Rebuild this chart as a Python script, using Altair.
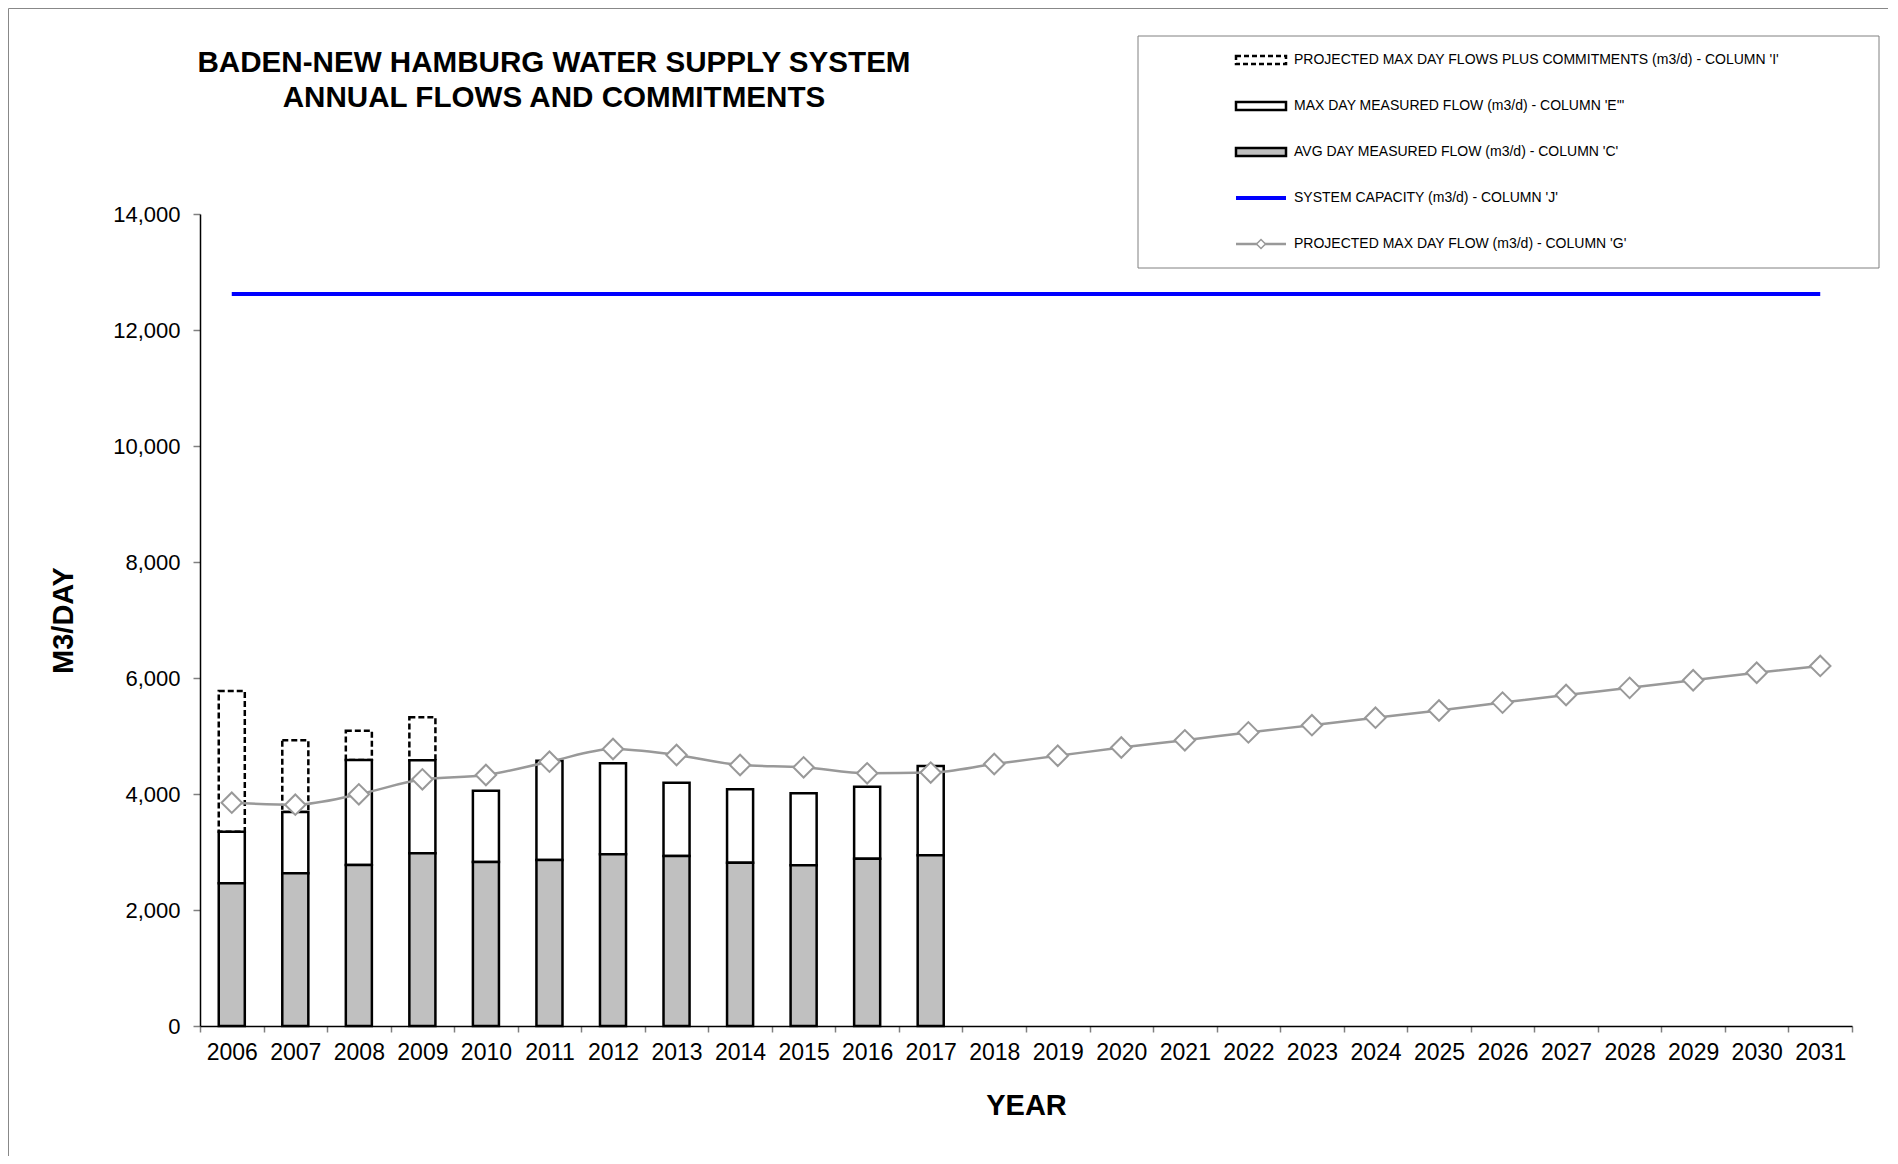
import altair as alt
import pandas as pd

# ---------------- data ----------------
years = [str(y) for y in range(2006, 2032)]
bar_years = years[:12]
avg_day = [2460, 2633, 2776, 2978, 2828, 2862, 2960, 2931, 2816, 2770, 2885, 2943]
max_day = [3350, 3690, 4586, 4580, 4057, 4574, 4529, 4195, 4081, 4012, 4126, 4483]
commit_years = years[:4]
proj_commit = [5776, 4926, 5091, 5322]
proj_max = [3850, 3816, 3995, 4253, 4328, 4557, 4776, 4672, 4500, 4460, 4357, 4370,
            4517, 4659, 4802, 4926, 5062, 5186, 5316, 5440, 5576, 5707, 5830, 5961,
            6091, 6208]
capacity_value = 12620
y_ticks = [0, 2000, 4000, 6000, 8000, 10000, 12000, 14000]

title_lines = ["BADEN-NEW HAMBURG WATER SUPPLY SYSTEM", "ANNUAL FLOWS AND COMMITMENTS"]
legend_labels = [
    "PROJECTED MAX DAY FLOWS PLUS COMMITMENTS (m3/d) - COLUMN 'I'",
    "MAX DAY MEASURED FLOW (m3/d) - COLUMN 'E'\"",
    "AVG DAY MEASURED FLOW (m3/d) - COLUMN 'C'",
    "SYSTEM CAPACITY (m3/d) - COLUMN 'J'",
    "PROJECTED MAX DAY FLOW (m3/d) - COLUMN 'G'",
]
x_title = "YEAR"
y_title = "M3/DAY"

bars_df = pd.DataFrame({"year": bar_years, "avg": avg_day, "max": max_day})
commit_df = pd.DataFrame({"year": commit_years, "commit": proj_commit,
                          "max": max_day[:len(commit_years)]})
proj_df = pd.DataFrame({"year": years, "proj": proj_max})
cap_df = pd.DataFrame({"year": years, "cap": [capacity_value] * len(years)})
one = pd.DataFrame({"a": [0]})

FONT = "Liberation Sans"
W, H = 1652, 812
GRAY_LINE = "#999999"

x_scale = alt.Scale(domain=years, paddingInner=0, paddingOuter=0)
x_axis = alt.Axis(
    title=x_title, tickBand="extent", labelAngle=0, labelFontSize=23,
    labelColor="black", labelPadding=9, tickSize=6, tickColor="#808080",
    tickWidth=1.5, domainColor="black", domainWidth=1.5,
    titleFontSize=29, titleFontWeight="bold", titleColor="black",
    titleX=W / 2, titleY=79, titleBaseline="middle", titleAlign="center",
)
y_scale = alt.Scale(domain=[0, 14000], nice=False)
y_axis = alt.Axis(
    title=y_title, values=y_ticks, format=",.0f", grid=False, labelFontSize=22,
    labelColor="black", labelPadding=13, tickSize=7, tickColor="#808080",
    tickWidth=1.5, domainColor="black", domainWidth=1.5,
    titleFontSize=29, titleFontWeight="bold", titleColor="black",
    titleX=-137, titleY=H / 2, titleBaseline="middle", titleAlign="center",
    titleAngle=-90,
)

X = alt.X("year:O", scale=x_scale, axis=x_axis)

commit_bars = alt.Chart(commit_df).mark_bar(
    width={"band": 0.41}, fill="white", stroke="black", strokeWidth=2.5,
    strokeDash=[6, 3]
).encode(x=X, y=alt.Y("commit:Q", scale=y_scale, axis=y_axis), y2="max:Q")

max_bars = alt.Chart(bars_df).mark_bar(
    width={"band": 0.41}, fill="white", stroke="black", strokeWidth=2.5
).encode(x=X, y=alt.Y("max:Q", scale=y_scale, axis=y_axis), y2="avg:Q")

avg_bars = alt.Chart(bars_df).mark_bar(
    width={"band": 0.41}, fill="#C0C0C0", stroke="black", strokeWidth=2.5
).encode(x=X, y=alt.Y("avg:Q", scale=y_scale, axis=y_axis))

cap_line = alt.Chart(cap_df).mark_line(color="#0000FF", strokeWidth=4).encode(
    x=X, y=alt.Y("cap:Q", scale=y_scale, axis=y_axis))

proj_line = alt.Chart(proj_df).mark_line(
    color=GRAY_LINE, strokeWidth=2.5, interpolate="monotone"
).encode(x=X, y=alt.Y("proj:Q", scale=y_scale, axis=y_axis))

proj_pts = alt.Chart(proj_df).mark_point(
    shape="diamond", size=420, filled=True, fill="white", stroke=GRAY_LINE,
    strokeWidth=2, opacity=1
).encode(x=X, y=alt.Y("proj:Q", scale=y_scale, axis=y_axis))

# ---------------- decorations: frame, title, legend ----------------
layers = [commit_bars, max_bars, avg_bars, cap_line, proj_line, proj_pts]

frame = alt.Chart(one).mark_rect(fill=None, stroke="#888888", strokeWidth=1).encode(
    x=alt.value(-191.5), y=alt.value(-205.5), x2=alt.value(W + 200), y2=alt.value(H + 200))
layers.insert(0, frame)

for i, (line, ty) in enumerate(zip(title_lines, [-151, -116])):
    layers.append(alt.Chart(one).mark_text(
        text=line, font=FONT, fontSize=29.6, fontWeight="bold", color="black",
        align="center", baseline="middle"
    ).encode(x=alt.value(354), y=alt.value(ty)))

lx0, lx1 = 1036, 1086
rows = [-154, -108, -62, -16, 30]

legend_box = alt.Chart(one).mark_rect(fill="white", stroke="#808080", strokeWidth=1).encode(
    x=alt.value(938), x2=alt.value(1679), y=alt.value(-178), y2=alt.value(54))
layers.append(legend_box)

layers.append(alt.Chart(one).mark_rect(
    fill="white", stroke="black", strokeWidth=2.5, strokeDash=[5, 3]
).encode(x=alt.value(lx0), x2=alt.value(lx1), y=alt.value(rows[0] - 4), y2=alt.value(rows[0] + 4)))
layers.append(alt.Chart(one).mark_rect(
    fill="white", stroke="black", strokeWidth=2.5
).encode(x=alt.value(lx0), x2=alt.value(lx1), y=alt.value(rows[1] - 4), y2=alt.value(rows[1] + 4)))
layers.append(alt.Chart(one).mark_rect(
    fill="#C0C0C0", stroke="black", strokeWidth=2.5
).encode(x=alt.value(lx0), x2=alt.value(lx1), y=alt.value(rows[2] - 4), y2=alt.value(rows[2] + 4)))
layers.append(alt.Chart(one).mark_rule(color="#0000FF", strokeWidth=4).encode(
    x=alt.value(lx0), x2=alt.value(lx1), y=alt.value(rows[3])))
layers.append(alt.Chart(one).mark_rule(color=GRAY_LINE, strokeWidth=2.5).encode(
    x=alt.value(lx0), x2=alt.value(lx1), y=alt.value(rows[4])))
layers.append(alt.Chart(one).mark_point(
    shape="diamond", size=80, filled=True, fill="white", stroke=GRAY_LINE,
    strokeWidth=1.5, opacity=1
).encode(x=alt.value((lx0 + lx1) / 2), y=alt.value(rows[4])))

for label, ry in zip(legend_labels, rows):
    layers.append(alt.Chart(one).mark_text(
        text=label, font=FONT, fontSize=14, color="black", align="left",
        baseline="middle"
    ).encode(x=alt.value(1094), y=alt.value(ry)))

chart = alt.layer(*layers).properties(
    width=W, height=H,
    autosize=alt.AutoSizeParams(type="none"),
    padding={"left": 192, "top": 206, "right": 36, "bottom": 130},
    background="white",
).configure_view(strokeWidth=0).configure_axis(
    labelFont=FONT, titleFont=FONT
).configure_text(font=FONT)

chart.save("out.html", embed_options={"renderer": "svg", "actions": False})
